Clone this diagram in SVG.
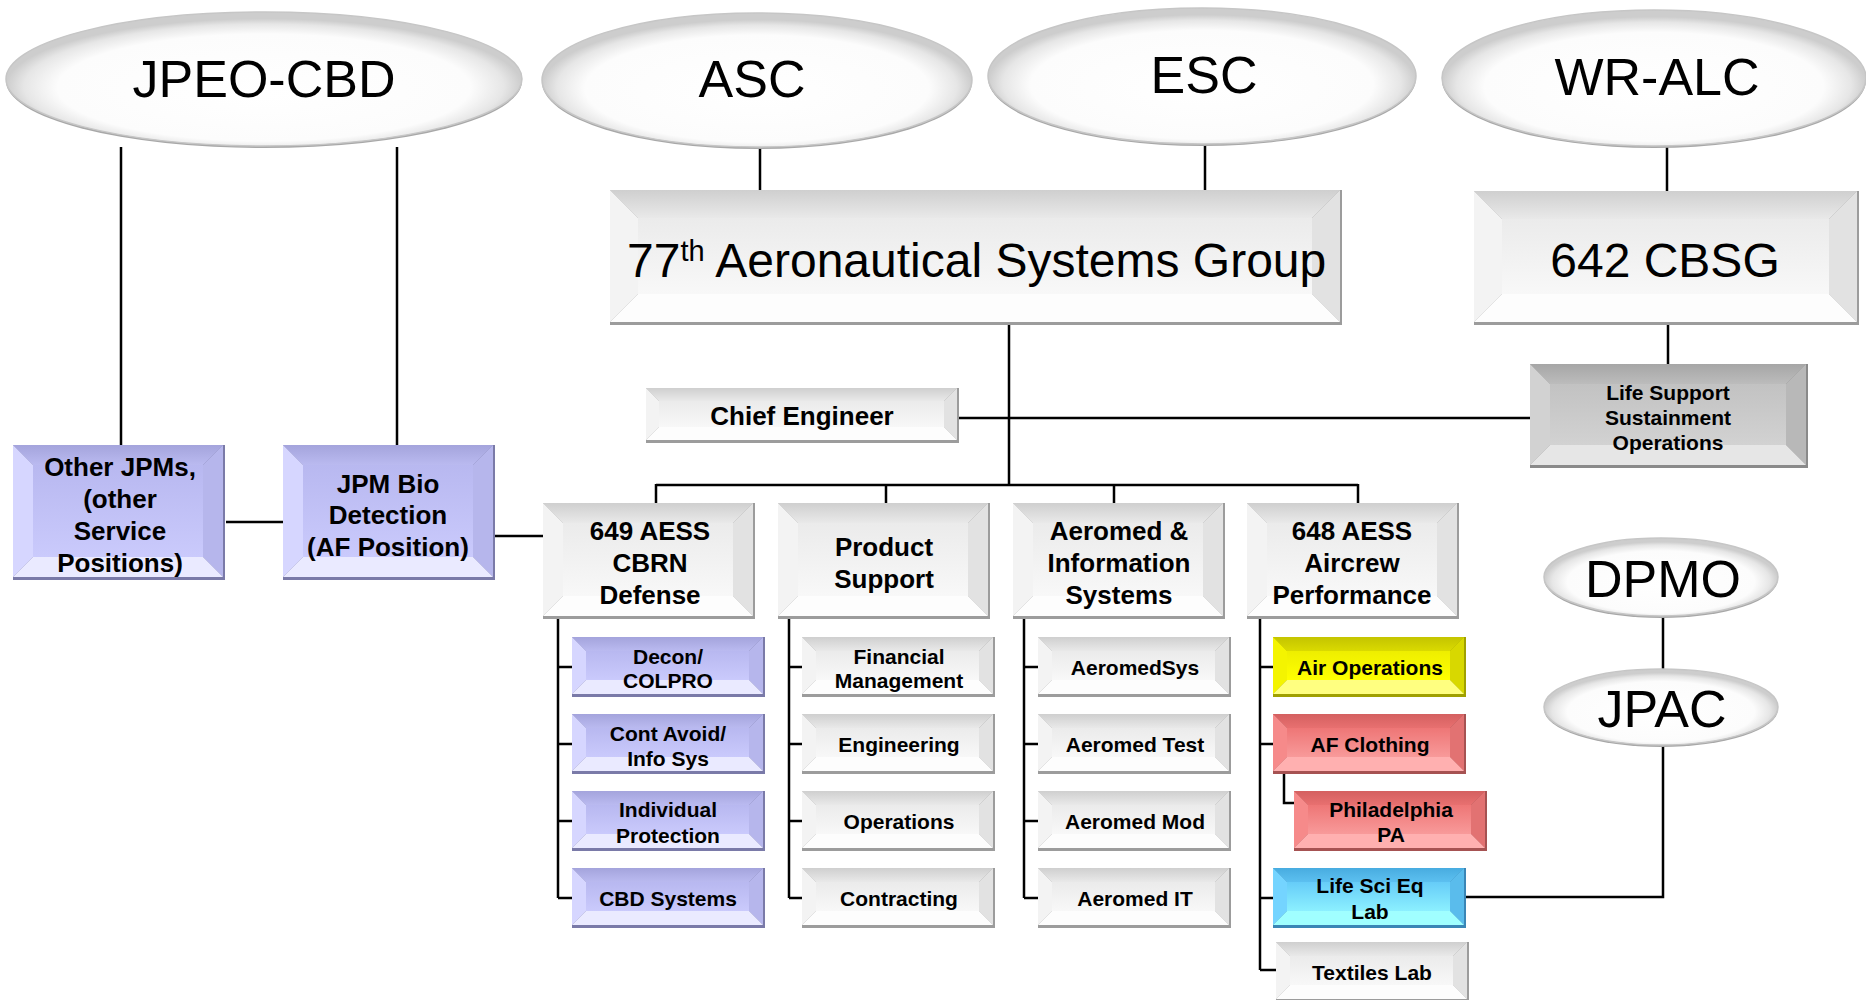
<svg xmlns="http://www.w3.org/2000/svg" xmlns:xlink="http://www.w3.org/1999/xlink" width="1866" height="1000" viewBox="0 0 1866 1000">
<style>
.ln{stroke:#000;stroke-width:2.5;fill:none}
.t1{font-family:"Liberation Sans",Arial,sans-serif;font-size:52px;text-anchor:middle;fill:#000}
.t0{font-family:"Liberation Sans",Arial,sans-serif;font-size:48px;fill:#000}
.t2{font-family:"Liberation Sans",Arial,sans-serif;font-size:26px;font-weight:bold;text-anchor:middle;fill:#000}
.t3{font-family:"Liberation Sans",Arial,sans-serif;font-size:21px;font-weight:bold;text-anchor:middle;fill:#000}
.es{fill:#a8a8a8}
.el{fill:url(#eg);stroke:#c6c6c6;stroke-width:1.5}
.w-e{fill:#9c9c9c}.w-t{fill:url(#w-tg)}.w-l{fill:#f3f3f3}.w-r{fill:#e2e2e2}.w-b{fill:#fdfdfd}.w-f{fill:url(#w-fg)}
.v-e{fill:#7a7aa8}.v-t{fill:url(#v-tg)}.v-l{fill:#d6d6ff}.v-r{fill:#b6b6ec}.v-b{fill:#eaeaff}.v-f{fill:url(#v-fg)}
.g-e{fill:#8a8a8a}.g-t{fill:url(#g-tg)}.g-l{fill:#d2d2d2}.g-r{fill:#b8b8b8}.g-b{fill:#e6e6e6}.g-f{fill:url(#g-fg)}
.y-e{fill:#a0a000}.y-t{fill:url(#y-tg)}.y-l{fill:#f4f400}.y-r{fill:#d8d800}.y-b{fill:#ffff80}.y-f{fill:url(#y-fg)}
.r-e{fill:#a65252}.r-t{fill:url(#r-tg)}.r-l{fill:#f68a8a}.r-r{fill:#e27272}.r-b{fill:#ffb0b0}.r-f{fill:url(#r-fg)}
.c-e{fill:#3a86b6}.c-t{fill:url(#c-tg)}.c-l{fill:#74d4ff}.c-r{fill:#5abcec}.c-b{fill:#a0ffff}.c-f{fill:url(#c-fg)}
</style>
<defs>
<radialGradient id="eg" cx="0.5" cy="0.55" r="0.5" fx="0.5" fy="0.62">
<stop offset="0" stop-color="#ffffff"/><stop offset="0.8" stop-color="#fcfcfc"/><stop offset="0.93" stop-color="#e6e6e6"/><stop offset="1" stop-color="#cdcdcd"/>
</radialGradient>
<linearGradient id="w-tg" x1="0" y1="0" x2="0" y2="1"><stop offset="0" stop-color="#cfcfcf"/><stop offset="1" stop-color="#e9e9e9"/></linearGradient>
<linearGradient id="w-fg" x1="0" y1="0" x2="0" y2="1"><stop offset="0" stop-color="#ebebeb"/><stop offset="1" stop-color="#f8f8f8"/></linearGradient>
<linearGradient id="v-tg" x1="0" y1="0" x2="0" y2="1"><stop offset="0" stop-color="#a4a4dc"/><stop offset="1" stop-color="#babaf0"/></linearGradient>
<linearGradient id="v-fg" x1="0" y1="0" x2="0" y2="1"><stop offset="0" stop-color="#b8b8f0"/><stop offset="1" stop-color="#cacafc"/></linearGradient>
<linearGradient id="g-tg" x1="0" y1="0" x2="0" y2="1"><stop offset="0" stop-color="#a6a6a6"/><stop offset="1" stop-color="#bcbcbc"/></linearGradient>
<linearGradient id="g-fg" x1="0" y1="0" x2="0" y2="1"><stop offset="0" stop-color="#c2c2c2"/><stop offset="1" stop-color="#d2d2d2"/></linearGradient>
<linearGradient id="y-tg" x1="0" y1="0" x2="0" y2="1"><stop offset="0" stop-color="#c4c400"/><stop offset="1" stop-color="#dada00"/></linearGradient>
<linearGradient id="y-fg" x1="0" y1="0" x2="0" y2="1"><stop offset="0" stop-color="#eeee00"/><stop offset="1" stop-color="#ffff00"/></linearGradient>
<linearGradient id="r-tg" x1="0" y1="0" x2="0" y2="1"><stop offset="0" stop-color="#d46060"/><stop offset="1" stop-color="#e87070"/></linearGradient>
<linearGradient id="r-fg" x1="0" y1="0" x2="0" y2="1"><stop offset="0" stop-color="#ee7676"/><stop offset="1" stop-color="#f89a9a"/></linearGradient>
<linearGradient id="c-tg" x1="0" y1="0" x2="0" y2="1"><stop offset="0" stop-color="#48ace0"/><stop offset="1" stop-color="#5cc0f0"/></linearGradient>
<linearGradient id="c-fg" x1="0" y1="0" x2="0" y2="1"><stop offset="0" stop-color="#66ccf8"/><stop offset="1" stop-color="#8cf0ff"/></linearGradient>

<g id="sm-w"><rect class="w-e" width="193" height="60"/><polygon class="w-t" points="0,0 191,0 177,14 14,14"/><polygon class="w-l" points="0,0 14,14 14,43 0,57"/><polygon class="w-r" points="191,0 191,57 177,43 177,14"/><polygon class="w-b" points="0,57 14,43 177,43 191,57"/><rect class="w-f" x="14" y="14" width="163" height="29"/></g>
<g id="sm-v"><rect class="v-e" width="193" height="60"/><polygon class="v-t" points="0,0 191,0 177,14 14,14"/><polygon class="v-l" points="0,0 14,14 14,43 0,57"/><polygon class="v-r" points="191,0 191,57 177,43 177,14"/><polygon class="v-b" points="0,57 14,43 177,43 191,57"/><rect class="v-f" x="14" y="14" width="163" height="29"/></g>
<g id="sm-y"><rect class="y-e" width="193" height="60"/><polygon class="y-t" points="0,0 191,0 177,14 14,14"/><polygon class="y-l" points="0,0 14,14 14,43 0,57"/><polygon class="y-r" points="191,0 191,57 177,43 177,14"/><polygon class="y-b" points="0,57 14,43 177,43 191,57"/><rect class="y-f" x="14" y="14" width="163" height="29"/></g>
<g id="sm-r"><rect class="r-e" width="193" height="60"/><polygon class="r-t" points="0,0 191,0 177,14 14,14"/><polygon class="r-l" points="0,0 14,14 14,43 0,57"/><polygon class="r-r" points="191,0 191,57 177,43 177,14"/><polygon class="r-b" points="0,57 14,43 177,43 191,57"/><rect class="r-f" x="14" y="14" width="163" height="29"/></g>
<g id="sm-c"><rect class="c-e" width="193" height="60"/><polygon class="c-t" points="0,0 191,0 177,14 14,14"/><polygon class="c-l" points="0,0 14,14 14,43 0,57"/><polygon class="c-r" points="191,0 191,57 177,43 177,14"/><polygon class="c-b" points="0,57 14,43 177,43 191,57"/><rect class="c-f" x="14" y="14" width="163" height="29"/></g>
<g id="md-w"><rect class="w-e" width="212" height="116"/><polygon class="w-t" points="0,0 210,0 190,20 20,20"/><polygon class="w-l" points="0,0 20,20 20,93 0,113"/><polygon class="w-r" points="210,0 210,113 190,93 190,20"/><polygon class="w-b" points="0,113 20,93 190,93 210,113"/><rect class="w-f" x="20" y="20" width="170" height="73"/></g>
<g id="md-v"><rect class="v-e" width="212" height="135"/><polygon class="v-t" points="0,0 210,0 190,20 20,20"/><polygon class="v-l" points="0,0 20,20 20,112 0,132"/><polygon class="v-r" points="210,0 210,132 190,112 190,20"/><polygon class="v-b" points="0,132 20,112 190,112 210,132"/><rect class="v-f" x="20" y="20" width="170" height="92"/></g>
</defs>

<g id="connectors">
<path class="ln" d="M121 147V445M397 147V445M226 522H283M494 536H543"/>
<path class="ln" d="M760 147V190M1205 144V190M1667 147V191"/>
<path class="ln" d="M1009 325V485M656 485H1358M656 484V503M886 484V503M1114 484V503M1358 484V503"/>
<path class="ln" d="M959 418H1530M1668 325V364"/>
<path class="ln" d="M558 619V898M558 667H572M558 744H572M558 821H572M558 898H572"/>
<path class="ln" d="M789 619V898M789 667H802M789 744H802M789 821H802M789 898H802"/>
<path class="ln" d="M1024 619V898M1024 667H1038M1024 744H1038M1024 821H1038M1024 898H1038"/>
<path class="ln" d="M1260 619V970M1260 667H1273M1260 744H1273M1260 898H1273M1260 970H1276"/>
<path class="ln" d="M1284 774V803H1294"/>
<path class="ln" d="M1663 615V670M1663 745V897H1466"/>
</g>

<g id="jpeo-cbd"><ellipse class="es" cx="264" cy="81" rx="258" ry="67"/><ellipse class="el" cx="264" cy="79" rx="258" ry="67"/><text class="t1" x="264" y="97">JPEO-CBD</text></g>
<g id="asc"><ellipse class="es" cx="757" cy="82" rx="215" ry="67"/><ellipse class="el" cx="757" cy="80" rx="215" ry="67"/><text class="t1" x="752" y="97">ASC</text></g>
<g id="esc"><ellipse class="es" cx="1202" cy="78" rx="214" ry="68"/><ellipse class="el" cx="1202" cy="76" rx="214" ry="68"/><text class="t1" x="1204" y="93">ESC</text></g>
<g id="wr-alc"><ellipse class="es" cx="1654" cy="80" rx="212" ry="68"/><ellipse class="el" cx="1654" cy="78" rx="212" ry="68"/><text class="t1" x="1657" y="95">WR-ALC</text></g>
<g id="dpmo"><ellipse class="es" cx="1661" cy="579" rx="117" ry="39"/><ellipse class="el" cx="1661" cy="577" rx="117" ry="39"/><text class="t1" x="1663" y="597">DPMO</text></g>
<g id="jpac"><ellipse class="es" cx="1661" cy="709" rx="117" ry="38"/><ellipse class="el" cx="1661" cy="707" rx="117" ry="38"/><text class="t1" x="1662" y="727">JPAC</text></g>

<g id="asg77" transform="translate(610,190)">
<rect class="w-e" width="732" height="135"/><polygon class="w-t" points="0,0 730,0 702,28 28,28"/><polygon class="w-l" points="0,0 28,28 28,104 0,132"/><polygon class="w-r" points="730,0 730,132 702,104 702,28"/><polygon class="w-b" points="0,132 28,104 702,104 730,132"/><rect class="w-f" x="28" y="28" width="674" height="76"/>
<text class="t0" x="17" y="87">77<tspan font-size="29" dy="-16">th</tspan><tspan dy="16"> Aeronautical Systems Group</tspan></text>
</g>
<g id="cbsg642" transform="translate(1474,191)">
<rect class="w-e" width="385" height="134"/><polygon class="w-t" points="0,0 383,0 355,28 28,28"/><polygon class="w-l" points="0,0 28,28 28,103 0,131"/><polygon class="w-r" points="383,0 383,131 355,103 355,28"/><polygon class="w-b" points="0,131 28,103 355,103 383,131"/><rect class="w-f" x="28" y="28" width="327" height="75"/>
<text class="t0" x="191" y="86" text-anchor="middle">642 CBSG</text>
</g>
<g id="chief-engineer" transform="translate(646,388)">
<rect class="w-e" width="313" height="55"/><polygon class="w-t" points="0,0 311,0 298,13 13,13"/><polygon class="w-l" points="0,0 13,13 13,39 0,52"/><polygon class="w-r" points="311,0 311,52 298,39 298,13"/><polygon class="w-b" points="0,52 13,39 298,39 311,52"/><rect class="w-f" x="13" y="13" width="285" height="26"/>
<text class="t2" x="156" y="37">Chief Engineer</text>
</g>
<g id="life-support" transform="translate(1530,364)">
<rect class="g-e" width="278" height="104"/><polygon class="g-t" points="0,0 276,0 256,20 20,20"/><polygon class="g-l" points="0,0 20,20 20,81 0,101"/><polygon class="g-r" points="276,0 276,101 256,81 256,20"/><polygon class="g-b" points="0,101 20,81 256,81 276,101"/><rect class="g-f" x="20" y="20" width="236" height="61"/>
<text class="t3" x="138" y="36">Life Support</text><text class="t3" x="138" y="61">Sustainment</text><text class="t3" x="138" y="86">Operations</text>
</g>

<g id="other-jpms"><use xlink:href="#md-v" href="#md-v" transform="translate(13,445)"/>
<text class="t2" x="120" y="476">Other JPMs,</text><text class="t2" x="120" y="508">(other</text><text class="t2" x="120" y="540">Service</text><text class="t2" x="120" y="572">Positions)</text></g>
<g id="jpm-bio"><use xlink:href="#md-v" href="#md-v" transform="translate(283,445)"/>
<text class="t2" x="388" y="493">JPM Bio</text><text class="t2" x="388" y="524">Detection</text><text class="t2" x="388" y="556">(AF Position)</text></g>

<g id="aess649"><use xlink:href="#md-w" href="#md-w" transform="translate(543,503)"/>
<text class="t2" x="650" y="540">649 AESS</text><text class="t2" x="650" y="572">CBRN</text><text class="t2" x="650" y="604">Defense</text></g>
<g id="product-support"><use xlink:href="#md-w" href="#md-w" transform="translate(778,503)"/>
<text class="t2" x="884" y="556">Product</text><text class="t2" x="884" y="588">Support</text></g>
<g id="aeromed-info"><use xlink:href="#md-w" href="#md-w" transform="translate(1013,503)"/>
<text class="t2" x="1119" y="540">Aeromed &amp;</text><text class="t2" x="1119" y="572">Information</text><text class="t2" x="1119" y="604">Systems</text></g>
<g id="aess648"><use xlink:href="#md-w" href="#md-w" transform="translate(1247,503)"/>
<text class="t2" x="1352" y="540">648 AESS</text><text class="t2" x="1352" y="572">Aircrew</text><text class="t2" x="1352" y="604">Performance</text></g>

<g id="decon"><use xlink:href="#sm-v" href="#sm-v" transform="translate(572,637)"/><text class="t3" x="668" y="664">Decon/</text><text class="t3" x="668" y="688">COLPRO</text></g>
<g id="cont-avoid"><use xlink:href="#sm-v" href="#sm-v" transform="translate(572,714)"/><text class="t3" x="668" y="741">Cont Avoid/</text><text class="t3" x="668" y="766">Info Sys</text></g>
<g id="individual"><use xlink:href="#sm-v" href="#sm-v" transform="translate(572,791)"/><text class="t3" x="668" y="817">Individual</text><text class="t3" x="668" y="843">Protection</text></g>
<g id="cbd-systems"><use xlink:href="#sm-v" href="#sm-v" transform="translate(572,868)"/><text class="t3" x="668" y="906">CBD Systems</text></g>

<g id="financial"><use xlink:href="#sm-w" href="#sm-w" transform="translate(802,637)"/><text class="t3" x="899" y="664">Financial</text><text class="t3" x="899" y="688">Management</text></g>
<g id="engineering"><use xlink:href="#sm-w" href="#sm-w" transform="translate(802,714)"/><text class="t3" x="899" y="752">Engineering</text></g>
<g id="operations"><use xlink:href="#sm-w" href="#sm-w" transform="translate(802,791)"/><text class="t3" x="899" y="829">Operations</text></g>
<g id="contracting"><use xlink:href="#sm-w" href="#sm-w" transform="translate(802,868)"/><text class="t3" x="899" y="906">Contracting</text></g>

<g id="aeromedsys"><use xlink:href="#sm-w" href="#sm-w" transform="translate(1038,637)"/><text class="t3" x="1135" y="675">AeromedSys</text></g>
<g id="aeromed-test"><use xlink:href="#sm-w" href="#sm-w" transform="translate(1038,714)"/><text class="t3" x="1135" y="752">Aeromed Test</text></g>
<g id="aeromed-mod"><use xlink:href="#sm-w" href="#sm-w" transform="translate(1038,791)"/><text class="t3" x="1135" y="829">Aeromed Mod</text></g>
<g id="aeromed-it"><use xlink:href="#sm-w" href="#sm-w" transform="translate(1038,868)"/><text class="t3" x="1135" y="906">Aeromed IT</text></g>

<g id="air-operations"><use xlink:href="#sm-y" href="#sm-y" transform="translate(1273,637)"/><text class="t3" x="1370" y="675">Air Operations</text></g>
<g id="af-clothing"><use xlink:href="#sm-r" href="#sm-r" transform="translate(1273,714)"/><text class="t3" x="1370" y="752">AF Clothing</text></g>
<g id="philadelphia"><use xlink:href="#sm-r" href="#sm-r" transform="translate(1294,791)"/><text class="t3" x="1391" y="817">Philadelphia</text><text class="t3" x="1391" y="842">PA</text></g>
<g id="life-sci"><use xlink:href="#sm-c" href="#sm-c" transform="translate(1273,868)"/><text class="t3" x="1370" y="893">Life Sci Eq</text><text class="t3" x="1370" y="919">Lab</text></g>
<g id="textiles"><use xlink:href="#sm-w" href="#sm-w" transform="translate(1276,942)"/><text class="t3" x="1372" y="980">Textiles Lab</text></g>
</svg>
